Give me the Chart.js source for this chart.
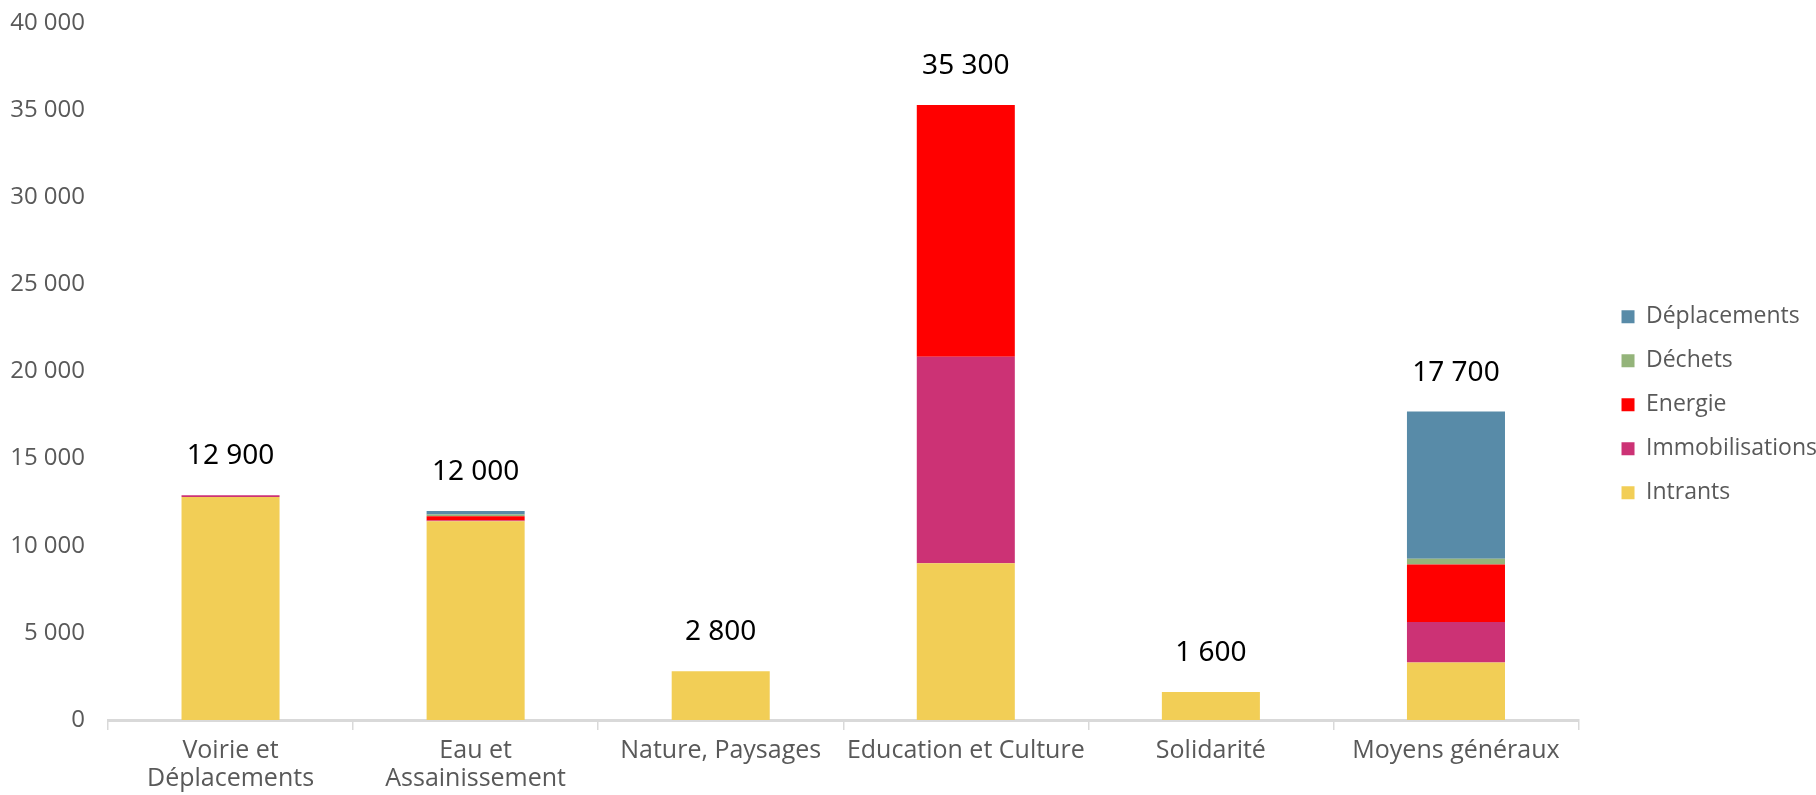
<!DOCTYPE html>
<html>
<head>
<meta charset="utf-8">
<script src="https://cdn.jsdelivr.net/npm/chart.js@4/dist/chart.umd.min.js"></script>
<style>
html,body{margin:0;padding:0;background:#fff;overflow:hidden;}
#wrap{position:relative;width:1816px;height:795px;overflow:hidden;}
</style>
</head>
<body>
<div id="wrap"><canvas id="c" width="1816" height="795"></canvas></div>
<script>
const categories = [["Voirie et","Déplacements"],["Eau et","Assainissement"],"Nature, Paysages","Education et Culture","Solidarité","Moyens généraux"];
const intrants        = [12800, 11400, 2800, 9000, 1600, 3300];
const immobilisations = [100,   50,    0,    11850, 0,    2320];
const energie         = [0,     250,   0,    14450, 0,    3300];
const dechets         = [0,     100,   0,    0,     0,    330];
const deplacements    = [0,     200,   0,    0,     0,    8450];
const totals          = [12900, 12000, 2800, 35300, 1600, 17700];
const yTicks          = [0, 5000, 10000, 15000, 20000, 25000, 30000, 35000, 40000];

const fmt = v => String(v).replace(/\B(?=(\d{3})+(?!\d))/g, ' ');
const font = "'Open Sans', 'Lato', sans-serif";

const totalsPlugin = {
  id: 'totals',
  afterDatasetsDraw(chart) {
    const ctx = chart.ctx;
    const x = chart.scales.x, y = chart.scales.y;
    ctx.save();
    ctx.fillStyle = '#000';
    ctx.font = "28px 'Noto Sans', 'Liberation Sans', sans-serif";
    ctx.textAlign = 'center';
    ctx.textBaseline = 'middle';
    totals.forEach((t, i) => {
      ctx.fillText(fmt(t), x.getPixelForValue(i), y.getPixelForValue(t) - 39);
    });
    ctx.restore();
  }
};

const ds = (label, data, color) => ({label, data, backgroundColor: color, borderWidth: 0, barPercentage: 0.4, categoryPercentage: 1.0});

new Chart(document.getElementById('c'), {
  type: 'bar',
  data: {
    labels: categories,
    datasets: [
      ds('Intrants', intrants, '#F2CE56'),
      ds('Immobilisations', immobilisations, '#CC3275'),
      ds('Energie', energie, '#FF0000'),
      ds('Déchets', dechets, '#94B47A'),
      ds('Déplacements', deplacements, '#588BA8')
    ]
  },
  options: {
    responsive: false,
    animation: false,
    layout: {padding: {top: 0, left: 0, right: -11, bottom: 0}},
    plugins: {
      tooltip: {enabled: false},
      legend: {
        position: 'right',
        reverse: true,
        title: {display: true, text: ' ', padding: 0, font: {size: 12, lineHeight: 1.2}},
        labels: {boxWidth: 13, boxHeight: 13, padding: 21, color: '#595959', font: {family: font, size: 23}}
      }
    },
    scales: {
      x: {
        stacked: true,
        afterFit: s => { s.height = 75; },
        grid: {display: true, drawOnChartArea: false, offset: true, tickLength: 10, color: '#d9d9d9', lineWidth: 1.5},
        border: {display: true, color: '#d9d9d9', width: 3},
        ticks: {color: '#595959', font: {family: font, size: 25, lineHeight: 1.15}, maxRotation: 0, autoSkip: false, padding: 6}
      },
      y: {
        stacked: true,
        min: 0, max: 40000,
        afterBuildTicks: s => { s.ticks = yTicks.map(v => ({value: v})); },
        afterFit: s => { s.width = 108; s.paddingTop = 23; s.paddingBottom = 14; },
        grid: {display: false, drawTicks: false},
        border: {display: false},
        ticks: {color: '#595959', font: {family: font, size: 24}, padding: 23, callback: v => fmt(v)}
      },
      y2: {
        type: 'linear',
        position: 'right',
        display: true,
        grid: {display: false, drawTicks: false},
        border: {display: false},
        ticks: {display: false},
        afterFit: s => { s.width = 22; s.paddingTop = 0; s.paddingBottom = 0; }
      }
    }
  },
  plugins: [totalsPlugin]
});
</script>
</body>
</html>
